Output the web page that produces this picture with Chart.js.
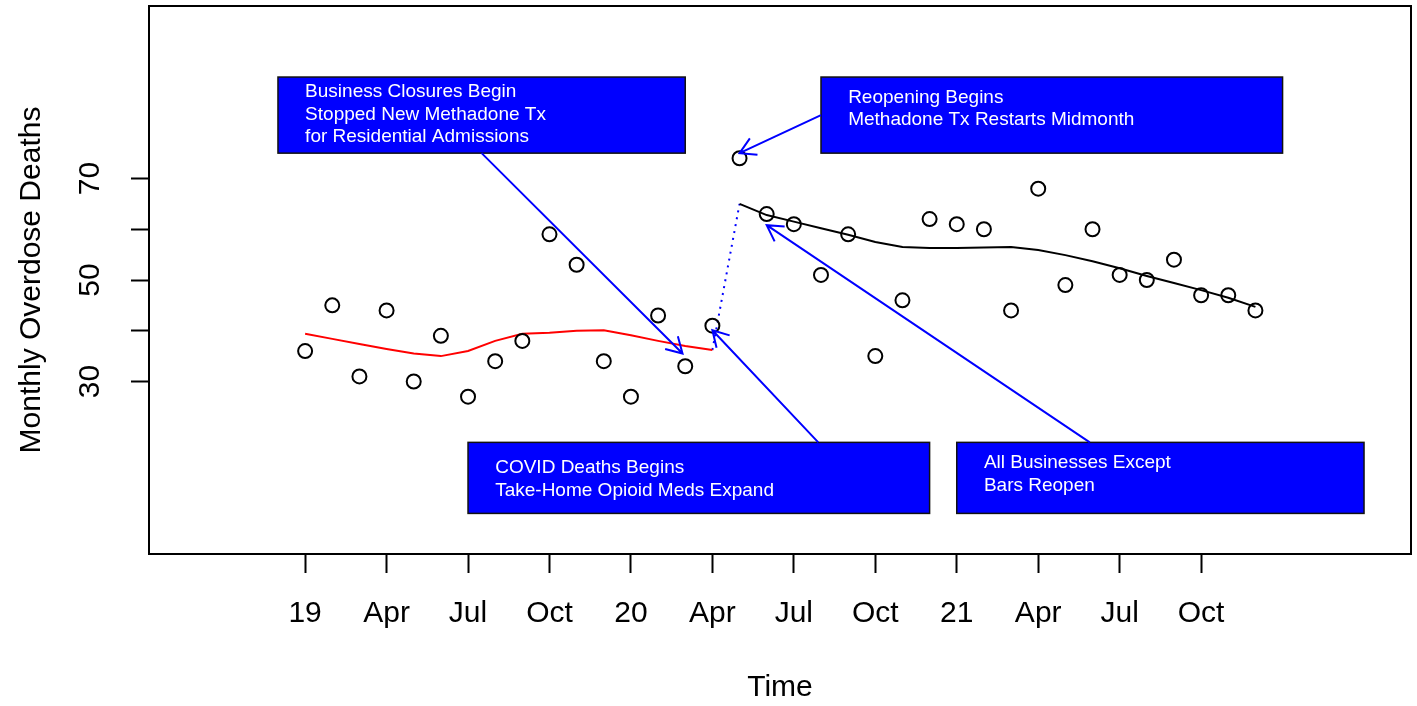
<!DOCTYPE html>
<html>
<head>
<meta charset="utf-8">
<script src="https://cdn.jsdelivr.net/npm/chart.js@4.4.1/dist/chart.umd.min.js"></script>
<style>
  html, body { margin: 0; padding: 0; background: #fff; }
  #wrap { width: 1417px; height: 706px; }
</style>
</head>
<body>
<div id="wrap"><canvas id="chart" width="1417" height="706"></canvas></div>
<script>
// month index: 0 = Jan 2019 ... 35 = Dec 2021
const months = [0, 1, 2, 3, 4, 5, 6, 7, 8, 9, 10, 11,
                12, 13, 14, 15, 16, 17, 18, 19, 20, 21, 22, 23,
                24, 25, 26, 27, 28, 29, 30, 31, 32, 33, 34, 35];
const deaths = [36, 45, 31, 44, 30, 39, 27, 34, 38, 59, 53, 34,
                27, 43, 33, 41, 74, 63, 61, 51, 59, 35, 46, 62,
                61, 60, 44, 68, 49, 60, 51, 50, 54, 47, 47, 44];

// smoothed trend before closures (Jan 2019 - Apr 2020)
const trendBefore = [39.4, 38.4, 37.4, 36.4, 35.5, 35.0, 36.0, 38.0, 39.4, 39.6, 40.0, 40.1,
                     39.1, 38.0, 37.0, 36.2];
// smoothed trend after reopening (May 2020 - Dec 2021)
const trendAfter = [65.0, 62.8, 61.5, 60.2, 58.9, 57.5, 56.5, 56.3,
                    56.3, 56.4, 56.5, 55.9, 54.9, 53.7, 52.3, 50.8, 49.4, 48.0, 46.5, 44.7];

const tickMonths = [0, 3, 6, 9, 12, 15, 18, 21, 24, 27, 30, 33];
const tickLabels = ['19', 'Apr', 'Jul', 'Oct', '20', 'Apr', 'Jul', 'Oct', '21', 'Apr', 'Jul', 'Oct'];
const yTicks = [30, 40, 50, 60, 70];
const yTickLabels = ['30', '', '50', '', '70'];

// annotation boxes, in month / deaths units
const notes = [
  { lines: ['Business Closures Begin', 'Stopped New Methadone Tx', 'for Residential Admissions'],
    x0: -1, x1: 14, y0: 75, y1: 90, textX: 0, textY: [87.05, 82.6, 78.2],
    from: [6.5, 75], to: [13.9, 35.5] },
  { lines: ['Reopening Begins', 'Methadone Tx Restarts Midmonth'],
    x0: 19, x1: 36, y0: 75, y1: 90, textX: 20, textY: [85.9, 81.6],
    from: [19, 82.5], to: [16, 75.0] },
  { lines: ['COVID Deaths Begins', 'Take-Home Opioid Meds Expand'],
    x0: 6, x1: 23, y0: 4, y1: 18, textX: 7, textY: [13.0, 8.4],
    from: [18.9, 18], to: [15, 40.1] },
  { lines: ['All Businesses Except', 'Bars Reopen'],
    x0: 24, x1: 39, y0: 4, y1: 18, textX: 25, textY: [14.0, 9.4],
    from: [28.9, 18], to: [17, 60.8] }
];

const FONT = "'Liberation Sans', Arial, sans-serif";
Chart.defaults.font.family = FONT;
Chart.defaults.color = '#000';

const pointData = months.map((m, i) => ({ x: m, y: deaths[i] }));
const beforeData = trendBefore.map((v, i) => ({ x: months[i], y: v }));
const afterData = trendAfter.map((v, i) => ({ x: months[i + 16], y: v }));
const connector = [
  { x: months[15], y: trendBefore[trendBefore.length - 1] },
  { x: months[16], y: trendAfter[0] }
];

const notesPlugin = {
  id: 'notes',
  afterDraw(chart) {
    const ctx = chart.ctx;
    const xs = chart.scales.x, ys = chart.scales.y;
    const a = chart.chartArea;
    ctx.save();
    // plot frame
    ctx.strokeStyle = '#000';
    ctx.lineWidth = 2;
    ctx.strokeRect(a.left, a.top, a.right - a.left, a.bottom - a.top);

    notes.forEach(n => {
      const l = xs.getPixelForValue(n.x0), r = xs.getPixelForValue(n.x1);
      const t = ys.getPixelForValue(n.y1), b = ys.getPixelForValue(n.y0);
      ctx.fillStyle = '#0000ff';
      ctx.fillRect(l, t, r - l, b - t);
      ctx.strokeStyle = '#111';
      ctx.lineWidth = 1.5;
      ctx.strokeRect(l, t, r - l, b - t);
      ctx.fillStyle = '#fff';
      ctx.font = '19px ' + FONT;
      ctx.textAlign = 'left';
      ctx.textBaseline = 'middle';
      n.lines.forEach((s, i) => {
        ctx.fillText(s, xs.getPixelForValue(n.textX), ys.getPixelForValue(n.textY[i]));
      });

      // arrow
      const x1 = xs.getPixelForValue(n.from[0]), y1 = ys.getPixelForValue(n.from[1]);
      const x2 = xs.getPixelForValue(n.to[0]), y2 = ys.getPixelForValue(n.to[1]);
      const ang = Math.atan2(y2 - y1, x2 - x1);
      const head = 18;
      ctx.strokeStyle = '#0000ff';
      ctx.lineWidth = 2;
      ctx.beginPath();
      ctx.moveTo(x1, y1);
      ctx.lineTo(x2, y2);
      ctx.moveTo(x2 - head * Math.cos(ang - Math.PI / 6), y2 - head * Math.sin(ang - Math.PI / 6));
      ctx.lineTo(x2, y2);
      ctx.lineTo(x2 - head * Math.cos(ang + Math.PI / 6), y2 - head * Math.sin(ang + Math.PI / 6));
      ctx.stroke();
    });
    ctx.restore();
  }
};

new Chart(document.getElementById('chart'), {
  type: 'scatter',
  data: {
    datasets: [
      {
        data: pointData,
        showLine: false,
        pointStyle: 'circle',
        pointRadius: 7,
        pointBorderWidth: 2,
        pointBorderColor: '#000',
        pointBackgroundColor: 'rgba(0,0,0,0)'
      },
      {
        data: beforeData,
        showLine: true,
        borderColor: '#ff0000',
        borderWidth: 2,
        pointRadius: 0,
        tension: 0
      },
      {
        data: afterData,
        showLine: true,
        borderColor: '#000',
        borderWidth: 2,
        pointRadius: 0,
        tension: 0
      },
      {
        data: connector,
        showLine: true,
        borderColor: '#0000ff',
        borderWidth: 2,
        borderDash: [2, 5],
        pointRadius: 0
      }
    ]
  },
  options: {
    responsive: false,
    animation: false,
    devicePixelRatio: 1,
    layout: { autoPadding: false, padding: { top: 6, right: 6, left: 0, bottom: 0 } },
    plugins: {
      legend: { display: false },
      tooltip: { enabled: false }
    },
    scales: {
      x: {
        type: 'linear',
        position: 'bottom',
        min: -5.75,
        max: 40.73,
        afterBuildTicks: s => { s.ticks = tickMonths.map(v => ({ value: v })); },
        afterFit: s => { s.height = 152; s.paddingLeft = 0; s.paddingRight = 0; },
        ticks: {
          autoSkip: false,
          maxRotation: 0,
          padding: 23,
          font: { size: 30 },
          color: '#000',
          callback: v => tickLabels[tickMonths.indexOf(v)]
        },
        grid: { drawOnChartArea: false, tickLength: 19, tickColor: '#000', tickWidth: 2 },
        border: { display: false },
        title: { display: true, text: 'Time', font: { size: 30 }, color: '#000', padding: { top: 0, bottom: 0 } }
      },
      y: {
        type: 'linear',
        min: -4,
        max: 104,
        afterBuildTicks: s => { s.ticks = yTicks.map(v => ({ value: v })); },
        afterFit: s => { s.width = 149; s.paddingTop = 0; s.paddingBottom = 0; },
        ticks: {
          minRotation: 90,
          maxRotation: 90,
          crossAlign: 'center',
          padding: 24,
          font: { size: 30 },
          color: '#000',
          callback: v => yTickLabels[yTicks.indexOf(v)]
        },
        grid: { drawOnChartArea: false, tickLength: 18, tickColor: '#000', tickWidth: 2 },
        border: { display: false },
        title: { display: true, text: 'Monthly Overdose Deaths', font: { size: 30 }, color: '#000', padding: { top: 14, bottom: 0 } }
      }
    }
  },
  plugins: [notesPlugin]
});
</script>
</body>
</html>
